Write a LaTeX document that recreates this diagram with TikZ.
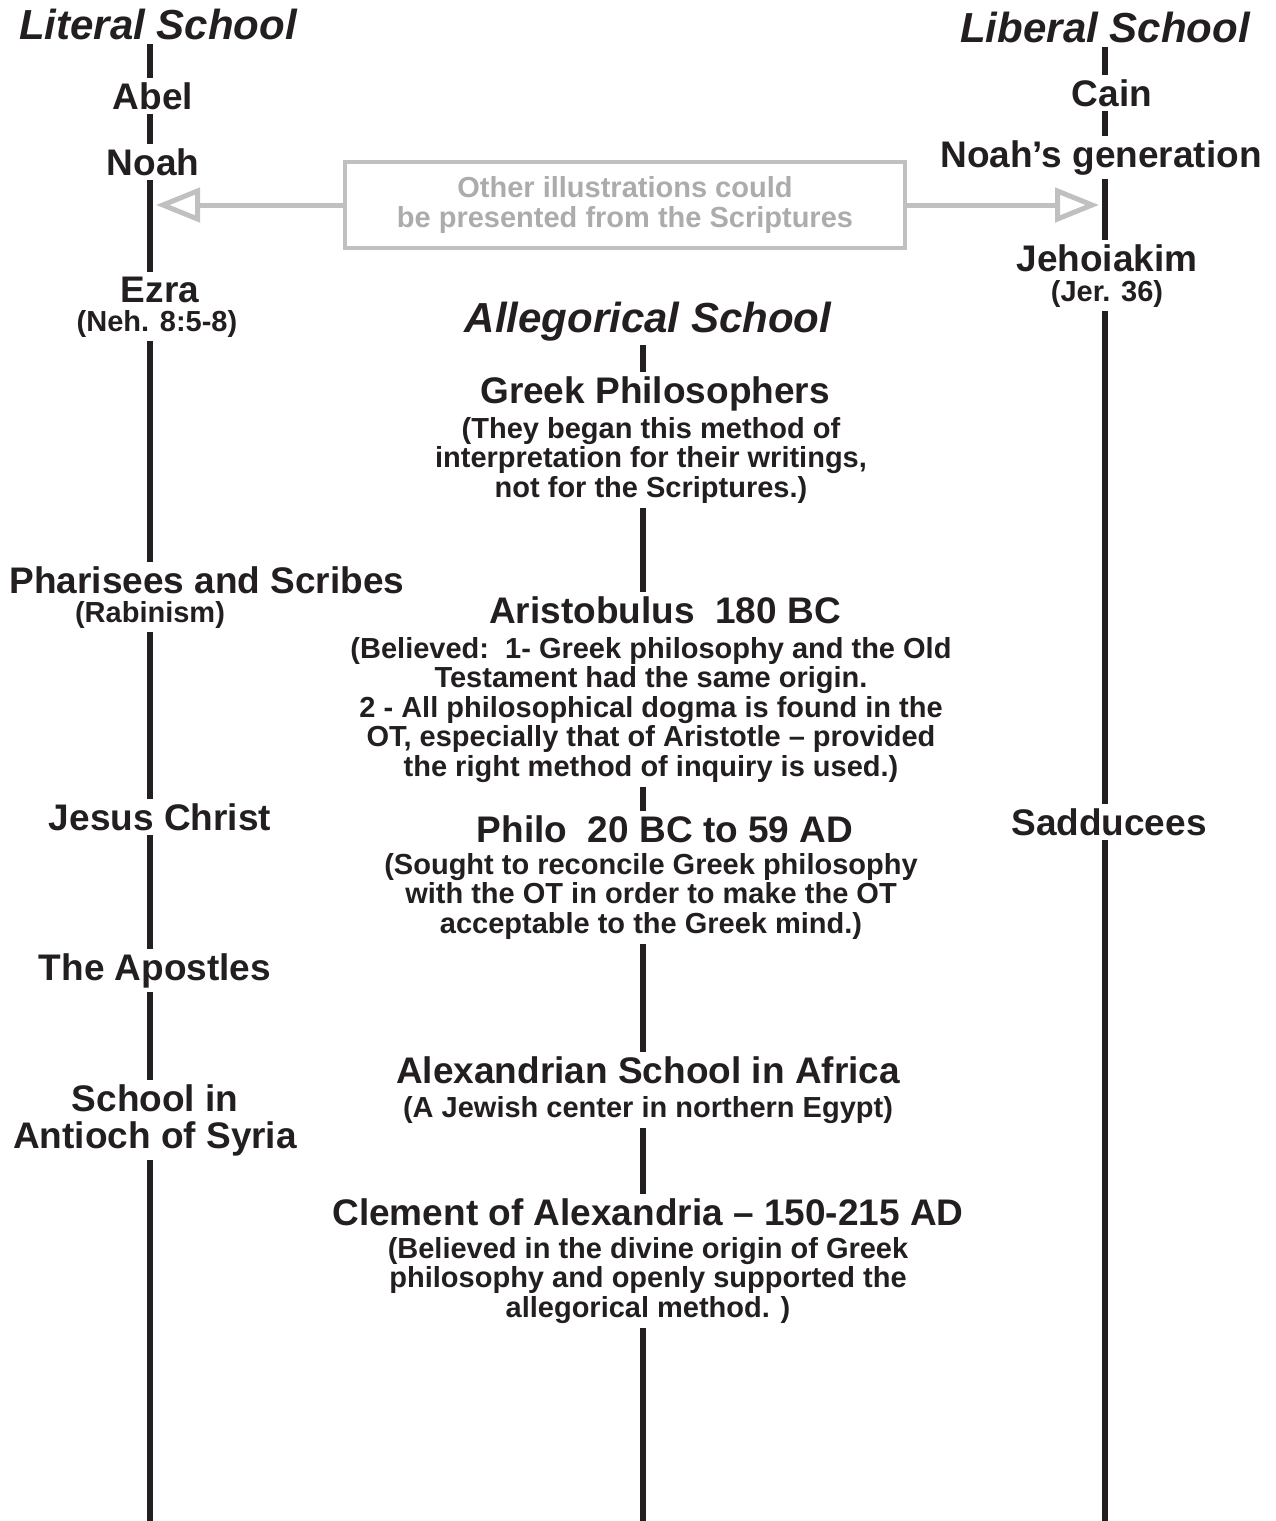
\documentclass[tikz,border=0pt]{standalone}
\usepackage{fontspec}
\setmainfont{Liberation Sans}
\usetikzlibrary{arrows.meta}
\definecolor{ink}{RGB}{35,31,32}
\definecolor{boxgray}{RGB}{192,192,192}
\definecolor{notegray}{RGB}{172,172,172}

\begin{document}
\begin{tikzpicture}[x=0.5pt, y=-0.5pt, inner sep=2pt, text=ink,
  schoolhead/.style={anchor=base, font=\fontsize{21}{21}\selectfont\bfseries\itshape},
  person/.style={anchor=base, align=center, font=\fontsize{18.5}{18.5}\selectfont\bfseries},
  remark/.style={anchor=base, align=center, font=\fontsize{14.5}{14.75}\selectfont\bfseries},
  stem/.style={draw=ink, line width=2.7pt},
  hint/.style={-{Triangle[open, length=22pt, width=17pt]}, draw=boxgray, line width=2.5pt, shorten >=3pt}]
	\useasboundingbox (0,0) rectangle (1275,1521);
	\coordinate (L) at (150,0);
	\coordinate (M) at (643,0);
	\coordinate (R) at (1105,0);
	\coordinate (bot) at (0,1521);
	% literal school
	\node[schoolhead] (lit) at (158,39) {Literal School};
	\node[person] (abel) at (153,109) {Abel};
	\node[person] (noah) at (153,175) {Noah};
	\node[person] (ezra) at (160,302) {Ezra};
	\node[remark] (neh) at (157,331) {(Neh. 8:5-8)};
	\node[person] (phar) at (207,593) {Pharisees and Scribes};
	\node[remark] (rabin) at (150,622) {(Rabinism)};
	\node[person] (jesus) at (160,830) {Jesus Christ};
	\node[person] (apost) at (155,980) {The Apostles};
	\node[person, anchor=north] (antioch) at (155,1080) {School in\\Antioch of Syria};
	% liberal school
	\node[schoolhead] (lib) at (1105,42) {Liberal School};
	\node[person] (cain) at (1112,106) {Cain};
	\node[person] (noahgen) at (1101,167) {Noah's generation};
	\node[person] (jehoi) at (1107,271) {Jehoiakim};
	\node[remark] (jer) at (1107,301) {(Jer. 36)};
	\node[person] (sadd) at (1109,835) {Sadducees};
	% allegorical school
	\node[schoolhead] (alleg) at (648,332) {Allegorical School};
	\node[person] (greek) at (655,403) {Greek Philosophers};
	\node[remark, anchor=north] (greeknote) at (651,413) {(They began this method of\\interpretation for their writings,\\not for the Scriptures.)};
	\node[person] (aristo) at (665,623) {Aristobulus\ \ 180 BC};
	\node[remark, anchor=north] (aristonote) at (651,633) {(Believed:\ \ 1- Greek philosophy and the Old\\Testament had the same origin.\\2 - All philosophical dogma is found in the\\OT, especially that of Aristotle -- provided\\the right method of inquiry is used.)};
	\node[person] (philo) at (665,842) {Philo\ \ 20 BC to 59 AD};
	\node[remark, anchor=north] (philonote) at (651,849) {(Sought to reconcile Greek philosophy\\with the OT in order to make the OT\\acceptable to the Greek mind.)};
	\node[person] (alex) at (648,1083) {Alexandrian School in Africa};
	\node[remark] (alexnote) at (648,1117) {(A Jewish center in northern Egypt)};
	\node[person] (clem) at (648,1225) {Clement of Alexandria -- 150-215 AD};
	\node[remark, anchor=north] (clemnote) at (648,1233) {(Believed in the divine origin of Greek\\philosophy and openly supported the\\allegorical method. )};
	% grey remark
	\node[draw=boxgray, line width=2pt, text=notegray, align=center, minimum width=280pt, minimum height=43pt,
	  font=\fontsize{14.5}{15}\selectfont\bfseries] (other) at (625,205) {Other illustrations could\\be presented from the Scriptures};
	\draw[hint] (other.west) -- (other.west -| L);
	\draw[hint] (other.east) -- (other.east -| R);
	% time lines
	\foreach \a/\b in {lit/abel, abel/noah, noah/ezra, neh/phar, rabin/jesus, jesus/apost, apost/antioch}
	  \draw[stem] (\a.south -| L) -- (\b.north -| L);
	\draw[stem] (antioch.south -| L) -- (bot -| L);
	\foreach \a/\b in {lib/cain, cain/noahgen, noahgen/jehoi, jer/sadd}
	  \draw[stem] (\a.south -| R) -- (\b.north -| R);
	\draw[stem] (sadd.south -| R) -- (bot -| R);
	\foreach \a/\b in {alleg/greek, greeknote/aristo, aristonote/philo, philonote/alex, alexnote/clem}
	  \draw[stem] (\a.south -| M) -- (\b.north -| M);
	\draw[stem] (clemnote.south -| M) -- (bot -| M);
\end{tikzpicture}
\end{document}
